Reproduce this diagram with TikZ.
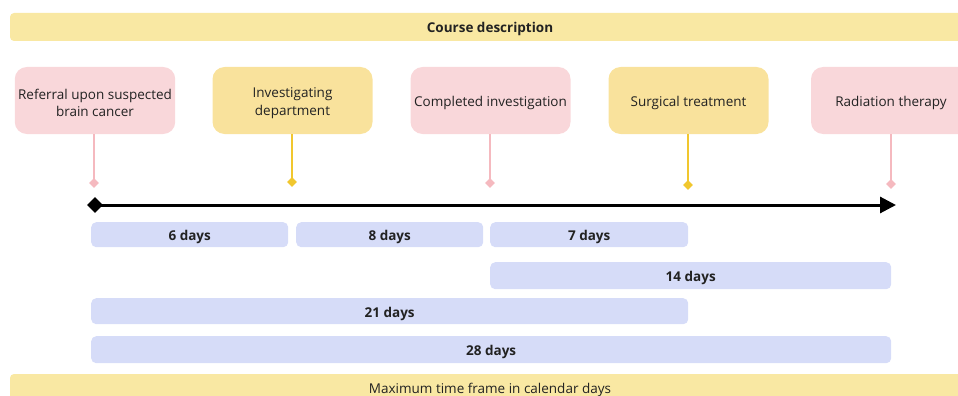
\documentclass[tikz,border=0pt]{standalone}
\usepackage{fontspec}
\setmainfont{Open Sans}
\usetikzlibrary{arrows.meta,shapes.geometric}
\definecolor{bannery}{HTML}{F9E8A3}
\definecolor{boxy}{HTML}{F9E29C}
\definecolor{boxp}{HTML}{F9D7DA}
\definecolor{stemp}{HTML}{F5B9BF}
\definecolor{stemy}{HTML}{F1C72E}
\definecolor{barc}{HTML}{D6DCF8}
\definecolor{txt}{HTML}{222222}
\tikzset{
  oneline/.style={text height=12.5pt, text depth=0pt},
  boxline/.style={text height=11.5pt, text depth=0pt},
  banner/.style={fill=bannery, rounded corners=4pt, draw=none},
  evbox/.style={rounded corners=12pt, draw=none, minimum height=67pt, minimum width=160pt, align=center, text=txt, font=\fontsize{13.5}{17.5}\selectfont},
  pinkbox/.style={evbox, fill=boxp},
  yellowbox/.style={evbox, fill=boxy},
  bar/.style={oneline, fill=barc, rounded corners=5pt, draw=none, inner sep=0pt, text=txt, font=\fontsize{13.5}{16}\selectfont\bfseries},
  stem/.style={line width=1.2pt},
  tick/.style={diamond, inner sep=0pt, minimum size=10pt, draw=none},
}
\begin{document}
\begin{tikzpicture}[x=1pt,y=-1pt]
\useasboundingbox (0,0) rectangle (958,396);
\begin{scope}
\clip (0,0) rectangle (958,396);
% banners
\fill[banner] (10,13) rectangle (970,41);
\node[oneline, font=\fontsize{13.5}{16}\selectfont\bfseries, text=txt] (title) at (490,26) {Course description};
\fill[banner] (10,374) rectangle (970,410);
\node[oneline, font=\fontsize{13.5}{16}\selectfont, text=txt] (foot) at (490,387.5) {Maximum time frame in calendar days};
% event boxes
\node[pinkbox] (e1) at (95,100.5) {\rule{0pt}{15pt}Referral upon suspected\\brain cancer};
\node[yellowbox] (e2) at (292.5,100.5) {\rule{0pt}{15pt}Investigating\\department};
\node[pinkbox, boxline] (e3) at (490.5,100.5) {Completed investigation};
\node[yellowbox, boxline] (e4) at (688.5,100.5) {Surgical treatment};
\node[pinkbox, boxline] (e5) at (891,100.5) {Radiation therapy};
% ticks
\node[tick, fill=stemp] (t1) at (94,183) {};
\node[tick, fill=stemy] (t2) at (292,182) {};
\node[tick, fill=stemp] (t3) at (490,183) {};
\node[tick, fill=stemy] (t4) at (688,185) {};
\node[tick, fill=stemp] (t5) at (891,184) {};
\draw[stem, stemp] (e1.south -| t1) -- (t1.center);
\draw[stem, stemy] (e2.south -| t2) -- (t2.center);
\draw[stem, stemp] (e3.south -| t3) -- (t3.center);
\draw[stem, stemy] (e4.south -| t4) -- (t4.center);
\draw[stem, stemp] (e5.south -| t5) -- (t5.center);
% timeline
\node[diamond, fill=black, inner sep=0pt, minimum size=16pt] (start) at (95,205) {};
\coordinate (end) at (896,205);
\draw[line width=3pt, -{Triangle[length=16pt,width=16pt]}] (start.center) -- (end);
% bars
\node[bar, minimum width=197pt, minimum height=25pt, anchor=north west] (b6) at (91,222) {6 days};
\node[bar, minimum width=187pt, minimum height=25pt, anchor=north west] (b8) at (296,222) {8 days};
\node[bar, minimum width=198pt, minimum height=25pt, anchor=north west] (b7) at (490,222) {7 days};
\node[bar, minimum width=401pt, minimum height=27pt, anchor=north west] (b14) at (490,262) {14 days};
\node[bar, minimum width=597pt, minimum height=26pt, anchor=north west] (b21) at (91,298) {21 days};
\node[bar, minimum width=800pt, minimum height=27pt, anchor=north west] (b28) at (91,336) {28 days};
\end{scope}
\end{tikzpicture}
\end{document}
